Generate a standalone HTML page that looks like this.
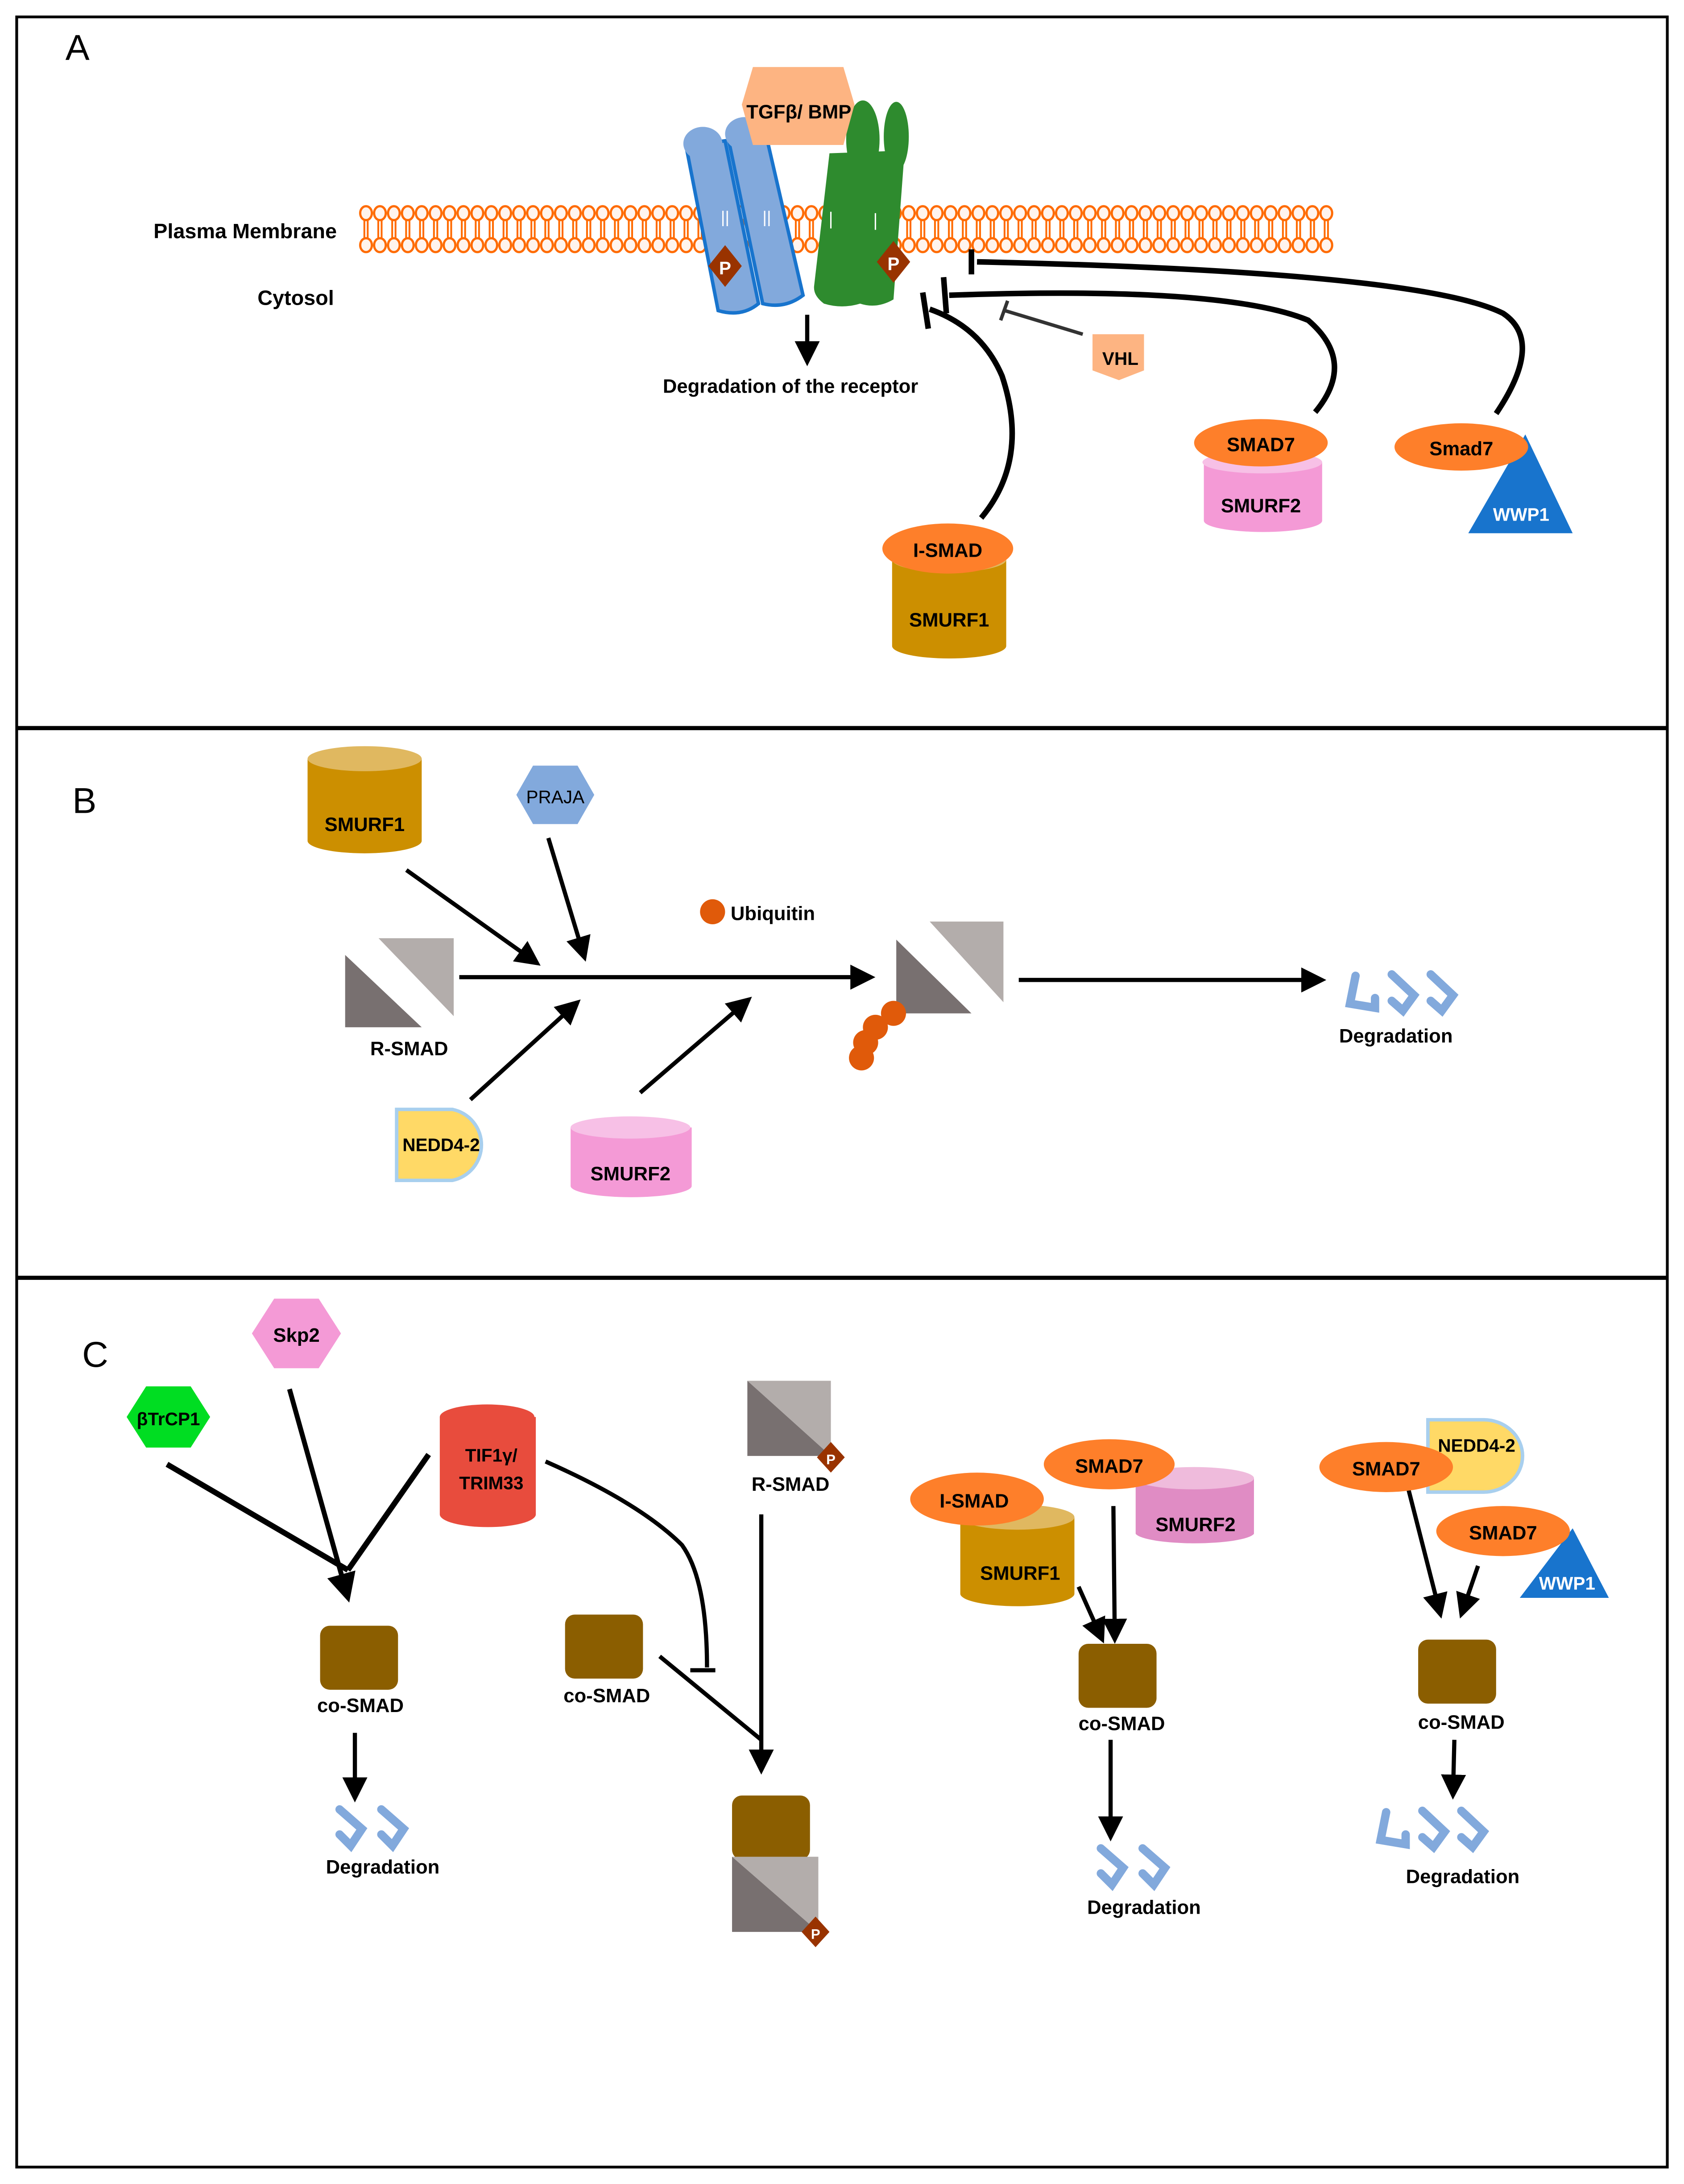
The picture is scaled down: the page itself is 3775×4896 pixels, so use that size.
<!DOCTYPE html>
<html><head><meta charset="utf-8"><style>
html,body{margin:0;padding:0;background:#fff}
svg{display:block}
text{font-family:"Liberation Sans Narrow","Liberation Sans",sans-serif;font-weight:bold}
</style></head><body>
<svg width="3775" height="4896" viewBox="0 0 1210 1569" xmlns="http://www.w3.org/2000/svg">
<defs>
<marker id="ah" markerWidth="6" markerHeight="6" refX="5" refY="3" orient="auto" markerUnits="strokeWidth"><path d="M0,0 L6,3 L0,6 z" fill="#000"/></marker>
<pattern id="mem" x="258" y="140" width="10" height="50" patternUnits="userSpaceOnUse">
<ellipse cx="5" cy="13" rx="4.2" ry="5" fill="#fff4ee" stroke="#ff6a00" stroke-width="1.6"/>
<ellipse cx="5" cy="36" rx="4.2" ry="5" fill="#fff4ee" stroke="#ff6a00" stroke-width="1.6"/>
<line x1="3.8" y1="18" x2="3.8" y2="31" stroke="#ff6a00" stroke-width="1.3"/>
<line x1="6.2" y1="18" x2="6.2" y2="31" stroke="#ff6a00" stroke-width="1.3"/>
</pattern>
<g id="deg" fill="none" stroke="#82a9dc" stroke-width="6" stroke-linecap="round">
<path d="M8,4 L4,24 L22,27 L22,20"/>
<path d="M34,3 L50,18 L42,29 L34,22"/>
<path d="M62,3 L78,18 L70,29 L62,22"/>
</g>
<g id="deg2" fill="none" stroke="#82a9dc" stroke-width="6" stroke-linecap="round">
<path d="M6,4 L22,18 L14,30 L6,22"/>
<path d="M36,4 L52,18 L44,30 L36,22"/>
</g>
</defs>
<rect x="0" y="0" width="1210" height="1569" fill="#fff"/>
<rect x="12" y="12" width="1186" height="1545" fill="none" stroke="#000" stroke-width="2"/>
<line x1="12" y1="523" x2="1198" y2="523" stroke="#000" stroke-width="3"/>
<line x1="12" y1="918" x2="1198" y2="918" stroke="#000" stroke-width="3"/>

<!-- PANEL A -->
<text x="47" y="43" font-size="26" style="font-weight:normal">A</text>
<text x="242" y="171" font-size="15" text-anchor="end" font-family="Liberation Sans">Plasma Membrane</text>
<text x="240" y="219" font-size="15" text-anchor="end" font-family="Liberation Sans">Cytosol</text>
<rect x="258" y="140" width="700" height="50" fill="url(#mem)"/>
<!-- blue receptors -->
<g stroke="#1874cd" stroke-width="2.5" fill="#82a9dc">
<path d="M493,105 L521,101 L545,218 Q533,228 516,223 Z"/>
<path d="M523,98 L550,95 L577,212 Q564,222 548,218 Z"/>
</g>
<ellipse cx="505" cy="103" rx="14" ry="12" fill="#82a9dc"/>
<ellipse cx="535" cy="96" rx="14" ry="12" fill="#82a9dc"/>
<text x="521" y="160" font-size="12" fill="#fff" style="font-weight:normal" text-anchor="middle">||</text>
<text x="551" y="160" font-size="12" fill="#fff" style="font-weight:normal" text-anchor="middle">||</text>
<!-- green receptors -->
<path d="M596,110 L650,108 L642,215 Q630,222 618,218 Q605,222 592,218 Q584,212 585,205 Z" fill="#2e8b2e"/>
<ellipse cx="620" cy="100" rx="12" ry="28" fill="#2e8b2e"/>
<ellipse cx="644" cy="98" rx="9" ry="25" fill="#2e8b2e"/>
<line x1="597" y1="152" x2="597" y2="164" stroke="#fff" stroke-width="1"/>
<line x1="629" y1="153" x2="629" y2="165" stroke="#fff" stroke-width="1"/>
<polygon points="541,48 606,48 614,75 606,104 541,104 533,75" fill="#fdb482"/>
<text x="574" y="85" font-size="14" text-anchor="middle">TGFβ/ BMP</text>
<polygon points="521,176 533,191 521,206 509,191" fill="#993300"/>
<text x="521" y="197" font-size="13" text-anchor="middle" fill="#fff">P</text>
<polygon points="642,173 654,188 642,203 630,188" fill="#993300"/>
<text x="642" y="194" font-size="13" text-anchor="middle" fill="#fff">P</text>
<line x1="580" y1="226" x2="580" y2="260" stroke="#000" stroke-width="3" marker-end="url(#ah)"/>
<text x="568" y="282" font-size="14" text-anchor="middle">Degradation of the receptor</text>
<!-- inhibitors -->
<g fill="none" stroke="#000" stroke-width="4">
<path d="M705,372 Q740,330 720,270 Q705,235 668,222"/>
<line x1="663" y1="210" x2="667" y2="236"/>
<path d="M945,296 Q975,260 940,230 Q880,205 682,212"/>
<line x1="678" y1="199" x2="680" y2="225"/>
<path d="M1075,297 Q1110,245 1080,225 Q1020,195 702,188"/>
<line x1="698" y1="179" x2="698" y2="197"/>
</g>
<line x1="778" y1="240" x2="722" y2="223" stroke="#333" stroke-width="2.5"/>
<line x1="719" y1="230" x2="724" y2="216" stroke="#333" stroke-width="2.5"/>
<polygon points="785,240 822,240 822,266 804,273 785,266" fill="#fdb482"/>
<text x="805" y="262" font-size="13" text-anchor="middle">VHL</text>
<!-- SMAD7 / SMURF2 -->
<path d="M865,332 L865,374 A42,8 0 0 0 950,374 L950,332 Z" fill="#f49ad6"/>
<ellipse cx="907" cy="332" rx="43" ry="8" fill="#f7c0e6"/>
<ellipse cx="906" cy="318" rx="48" ry="17" fill="#fe7f2a"/>
<text x="906" y="324" font-size="14" text-anchor="middle">SMAD7</text>
<text x="906" y="368" font-size="14" text-anchor="middle">SMURF2</text>
<!-- Smad7 WWP1 -->
<polygon points="1055,383 1130,383 1096,312" fill="#1874cd"/>
<ellipse cx="1050" cy="321" rx="48" ry="17" fill="#fe7f2a"/>
<text x="1050" y="327" font-size="14" text-anchor="middle">Smad7</text>
<text x="1093" y="374" font-size="13" text-anchor="middle" fill="#fff">WWP1</text>
<!-- I-SMAD SMURF1 -->
<path d="M641,402 L641,464 A41,9 0 0 0 723,464 L723,402 Z" fill="#cc8f00"/>
<ellipse cx="682" cy="402" rx="41" ry="9" fill="#e0b860"/>
<ellipse cx="681" cy="394" rx="47" ry="18" fill="#fe7f2a"/>
<text x="681" y="400" font-size="14" text-anchor="middle">I-SMAD</text>
<text x="682" y="450" font-size="14" text-anchor="middle">SMURF1</text>

<!-- PANEL B -->
<text x="52" y="584" font-size="26" style="font-weight:normal">B</text>
<path d="M221,545 L221,604 A41,9 0 0 0 303,604 L303,545 Z" fill="#cc8f00"/>
<ellipse cx="262" cy="545" rx="41" ry="9" fill="#e0b860"/>
<text x="262" y="597" font-size="14" text-anchor="middle">SMURF1</text>
<polygon points="383,550 415,550 427,571 415,592 383,592 371,571" fill="#82a9dc"/>
<text x="399" y="577" font-size="13" text-anchor="middle" style="font-weight:normal">PRAJA</text>
<g stroke="#000" stroke-width="3" marker-end="url(#ah)">
<line x1="292" y1="625" x2="386" y2="692"/>
<line x1="394" y1="602" x2="420" y2="688"/>
<line x1="338" y1="790" x2="415" y2="720"/>
<line x1="460" y1="785" x2="538" y2="718"/>
<line x1="330" y1="702" x2="626" y2="702"/>
<line x1="732" y1="704" x2="950" y2="704"/>
</g>
<polygon points="272,674 326,674 326,730" fill="#b3adab"/>
<polygon points="248,686 248,738 303,738" fill="#787070"/>
<text x="294" y="758" font-size="14" text-anchor="middle">R-SMAD</text>
<circle cx="512" cy="655" r="9" fill="#e05a0a"/>
<text x="525" y="661" font-size="14">Ubiquitin</text>
<polygon points="668,662 721,662 721,720" fill="#b3adab"/>
<polygon points="644,675 644,728 698,728" fill="#787070"/>
<circle cx="642" cy="728" r="9" fill="#e05a0a"/>
<circle cx="629" cy="738" r="9" fill="#e05a0a"/>
<circle cx="622" cy="749" r="9" fill="#e05a0a"/>
<circle cx="619" cy="760" r="9" fill="#e05a0a"/>
<use href="#deg" x="966" y="697"/>
<text x="1003" y="749" font-size="14" text-anchor="middle">Degradation</text>
<path d="M285,797 L325,797 A26,26 0 0 1 325,848 L285,848 Z" fill="#ffd966" stroke="#a8cfee" stroke-width="2.5"/>
<text x="317" y="827" font-size="13" text-anchor="middle">NEDD4-2</text>
<path d="M410,810 L410,852 A43,8 0 0 0 497,852 L497,810 Z" fill="#f49ad6"/>
<ellipse cx="453" cy="810" rx="43" ry="8" fill="#f7c0e6"/>
<text x="453" y="848" font-size="14" text-anchor="middle">SMURF2</text>

<!-- PANEL C -->
<text x="59" y="982" font-size="26" style="font-weight:normal">C</text>
<polygon points="105,996 137,996 151,1018 137,1040 105,1040 91,1018" fill="#00dd22"/>
<text x="121" y="1024" font-size="13" text-anchor="middle">βTrCP1</text>
<polygon points="197,933 229,933 245,958 229,983 197,983 181,958" fill="#f49ad6"/>
<text x="213" y="964" font-size="14" text-anchor="middle">Skp2</text>
<path d="M316,1018 L316,1088 A34,9 0 0 0 385,1088 L385,1018 Z" fill="#e84c3d"/>
<ellipse cx="350" cy="1018" rx="34" ry="9" fill="#e84c3d"/>
<text x="353" y="1050" font-size="13" text-anchor="middle">TIF1γ/</text>
<text x="353" y="1070" font-size="13" text-anchor="middle">TRIM33</text>
<g stroke="#000" stroke-width="4">
<line x1="120" y1="1052" x2="250" y2="1128"/>
<line x1="308" y1="1045" x2="250" y2="1128"/>
<line x1="208" y1="998" x2="250" y2="1148" marker-end="url(#ah)" stroke-width="3.5"/>
</g>
<rect x="230" y="1168" width="56" height="46" rx="7" fill="#8b5e00"/>
<text x="259" y="1230" font-size="14" text-anchor="middle">co-SMAD</text>
<line x1="255" y1="1245" x2="255" y2="1292" stroke="#000" stroke-width="3" marker-end="url(#ah)"/>
<use href="#deg2" x="238" y="1296"/>
<text x="275" y="1346" font-size="14" text-anchor="middle">Degradation</text>

<rect x="406" y="1160" width="56" height="46" rx="7" fill="#8b5e00"/>
<text x="436" y="1223" font-size="14" text-anchor="middle">co-SMAD</text>
<path d="M392,1050 Q460,1080 490,1110 Q508,1135 508,1198" fill="none" stroke="#000" stroke-width="3"/>
<line x1="496" y1="1200" x2="514" y2="1200" stroke="#000" stroke-width="3"/>
<line x1="474" y1="1190" x2="547" y2="1250" stroke="#000" stroke-width="3"/>
<polygon points="537,992 597,992 597,1046" fill="#b3adab"/>
<polygon points="537,992 537,1046 597,1046" fill="#787070"/>
<polygon points="597,1036 607,1047 597,1058 587,1047" fill="#993300"/>
<text x="597" y="1052" font-size="10" text-anchor="middle" fill="#fff">P</text>
<text x="568" y="1071" font-size="14" text-anchor="middle">R-SMAD</text>
<line x1="547" y1="1088" x2="547" y2="1272" stroke="#000" stroke-width="3" marker-end="url(#ah)"/>
<rect x="526" y="1290" width="56" height="46" rx="7" fill="#8b5e00"/>
<polygon points="526,1334 588,1334 588,1388" fill="#b3adab"/>
<polygon points="526,1334 526,1388 588,1388" fill="#787070"/>
<polygon points="586,1377 596,1388 586,1399 576,1388" fill="#993300"/>
<text x="586" y="1393" font-size="10" text-anchor="middle" fill="#fff">P</text>

<!-- third -->
<path d="M690,1090 L690,1145 A41,9 0 0 0 772,1145 L772,1090 Z" fill="#cc8f00"/>
<ellipse cx="731" cy="1090" rx="41" ry="9" fill="#e0b860"/>
<path d="M816,1062 L816,1102 A43,8 0 0 0 901,1102 L901,1062 Z" fill="#e08cc4"/>
<ellipse cx="858" cy="1062" rx="43" ry="8" fill="#efbbdc"/>
<ellipse cx="797" cy="1052" rx="47" ry="18" fill="#fe7f2a"/>
<text x="797" y="1058" font-size="14" text-anchor="middle">SMAD7</text>
<ellipse cx="702" cy="1077" rx="48" ry="19" fill="#fe7f2a"/>
<text x="700" y="1083" font-size="14" text-anchor="middle">I-SMAD</text>
<text x="733" y="1135" font-size="14" text-anchor="middle">SMURF1</text>
<text x="859" y="1100" font-size="14" text-anchor="middle">SMURF2</text>
<g stroke="#000" stroke-width="3" marker-end="url(#ah)">
<line x1="775" y1="1140" x2="792" y2="1178"/>
<line x1="800" y1="1082" x2="801" y2="1178"/>
<line x1="798" y1="1250" x2="798" y2="1320"/>
<line x1="1012" y1="1070" x2="1035" y2="1160"/>
<line x1="1062" y1="1125" x2="1050" y2="1160"/>
<line x1="1045" y1="1250" x2="1044" y2="1290"/>
</g>
<rect x="775" y="1181" width="56" height="46" rx="7" fill="#8b5e00"/>
<text x="806" y="1243" font-size="14" text-anchor="middle">co-SMAD</text>
<use href="#deg2" x="785" y="1324"/>
<text x="822" y="1375" font-size="14" text-anchor="middle">Degradation</text>

<!-- fourth -->
<path d="M1026,1020 L1066,1020 A28,26 0 0 1 1066,1072 L1026,1072 Z" fill="#ffd966" stroke="#a8cfee" stroke-width="2.5"/>
<ellipse cx="996" cy="1054" rx="48" ry="18" fill="#fe7f2a"/>
<text x="996" y="1060" font-size="14" text-anchor="middle">SMAD7</text>
<text x="1061" y="1043" font-size="13" text-anchor="middle">NEDD4-2</text>
<polygon points="1092,1148 1156,1148 1130,1098" fill="#1874cd"/>
<ellipse cx="1080" cy="1100" rx="48" ry="18" fill="#fe7f2a"/>
<text x="1080" y="1106" font-size="14" text-anchor="middle">SMAD7</text>
<text x="1126" y="1142" font-size="13" text-anchor="middle" fill="#fff">WWP1</text>
<rect x="1019" y="1178" width="56" height="46" rx="7" fill="#8b5e00"/>
<text x="1050" y="1242" font-size="14" text-anchor="middle">co-SMAD</text>
<use href="#deg" x="988" y="1298"/>
<text x="1051" y="1353" font-size="14" text-anchor="middle">Degradation</text>
</svg>
</body></html>
